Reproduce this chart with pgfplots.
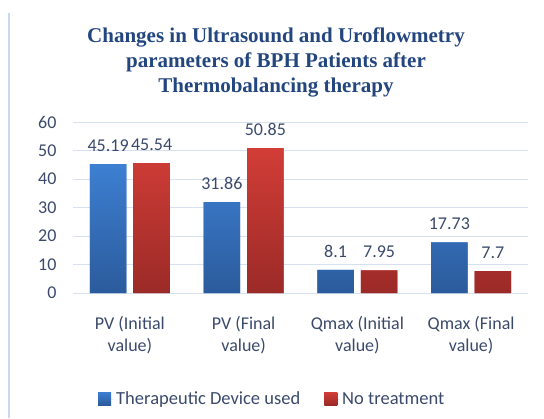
\documentclass[border=0pt]{standalone}
\usepackage{fontspec}
\setmainfont{Carlito}
\newfontfamily\titlefont{Liberation Serif}
\usepackage{pgfplots}
\pgfplotsset{compat=1.18}
\definecolor{txt}{HTML}{3B4A6B}
\definecolor{ttl}{HTML}{23467F}
\definecolor{gridc}{HTML}{D6E0EF}
\definecolor{frame}{HTML}{C9D8EC}
\definecolor{bluetop}{HTML}{3D7FD2}
\definecolor{bluebot}{HTML}{2B5B9C}
\definecolor{redtop}{HTML}{D23D37}
\definecolor{redbot}{HTML}{9B2A27}
\begin{document}
\begin{tikzpicture}[x=1bp,y=1bp]
\path[use as bounding box] (0,0) rectangle (544,418);
\draw[frame, line width=2bp] (9,0) -- (9,405);
\node[font=\titlefont\bfseries\fontsize{21bp}{25bp}\selectfont, text=ttl, align=center] at (276,356)
  {Changes in Ultrasound and Uroflowmetry\\parameters of BPH Patients after\\Thermobalancing therapy};
\begin{axis}[
  at={(73bp,125bp)}, anchor=south west,
  scale only axis, width=455bp, height=171bp,
  ymin=0, ymax=60, ytick={0,10,...,60},
  xmin=-0.5, xmax=3.5, xtick={0,1,2,3},
  xticklabels={{PV (Initial\\value)},{PV (Final\\value)},{Qmax (Initial\\value)},{Qmax (Final\\value)}},
  xticklabel style={align=center, font=\fontsize{18bp}{22bp}\selectfont, text=txt, yshift=-16bp},
  yticklabel style={font=\fontsize{18bp}{20bp}\selectfont, text=txt, xshift=-13bp},
  /pgf/number format/assume math mode=true,
  axis line style={draw=none},
  major tick style={draw=none},
  ymajorgrids, grid style={gridc, line width=1bp},
  ybar=7bp, bar width=36.5bp,
  nodes near coords,
  nodes near coords style={font=\fontsize{18bp}{20bp}\selectfont, text=txt, yshift=9bp},
  point meta=explicit symbolic,
  legend style={at={(0.438,-0.62)}, anchor=center, draw=none, fill=none,
    legend columns=2, font=\fontsize{18.5bp}{20bp}\selectfont, text=txt,
    /tikz/every even column/.append style={column sep=22bp}},
  legend image code/.code={\fill[#1] (0bp,-6bp) rectangle (13bp,7bp);\path (0bp,0bp) -- (16bp,0bp);},
]
\addplot[draw=none, top color=bluetop, bottom color=bluebot, fill=bluetop] coordinates {(0,45.19) [45.19] (1,31.86) [31.86] (2,8.1) [8.1] (3,17.73) [17.73]};
\addplot[draw=none, top color=redtop, bottom color=redbot, fill=redtop] coordinates {(0,45.54) [45.54] (1,50.85) [50.85] (2,7.95) [7.95] (3,7.7) [7.7]};
\legend{Therapeutic Device used, No treatment}
\end{axis}
\end{tikzpicture}
\end{document}
